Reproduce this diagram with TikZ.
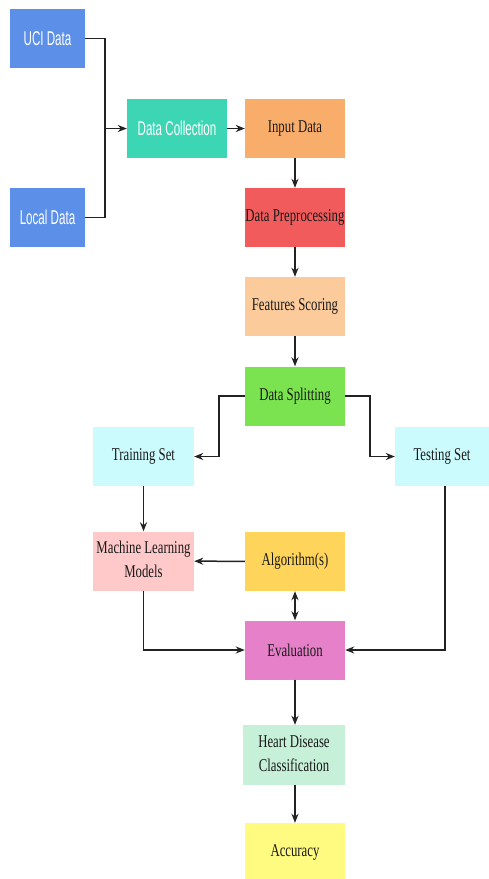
\documentclass[tikz,border=0pt]{standalone}
\usepackage{fontspec}
\setmainfont{Liberation Serif}
\setsansfont{Liberation Sans}
\usetikzlibrary{arrows.meta}
\newcommand{\sqz}[1]{\scalebox{0.71}[1]{#1}}
\newcommand{\sqs}[1]{\scalebox{0.58}[1]{#1}}
\definecolor{cblue}{HTML}{5B8FE8}
\definecolor{cteal}{HTML}{3DD6B5}
\definecolor{corange}{HTML}{F9AD6A}
\definecolor{cred}{HTML}{F15B5B}
\definecolor{cpeach}{HTML}{FCCB9C}
\definecolor{cgreen}{HTML}{7CE350}
\definecolor{ccyan}{HTML}{CCFBFE}
\definecolor{cpink}{HTML}{FFC9C9}
\definecolor{cyellow}{HTML}{FFD45A}
\definecolor{cmagenta}{HTML}{E680C8}
\definecolor{cmint}{HTML}{C7F0D8}
\definecolor{clemon}{HTML}{FFFA80}
\definecolor{cline}{HTML}{222222}
\begin{document}
\begin{tikzpicture}[x=1pt,y=-1pt,
  box/.style={minimum width=100pt,minimum height=59pt,inner sep=0pt,
    font=\fontsize{18}{24}\selectfont,text=black!90},
  wbox/.style={box,minimum width=75pt,text=white,font=\sffamily\fontsize{20}{24}\selectfont},
  conn/.style={draw=cline,line width=1.5pt},
  arr/.style={conn,-{Stealth[length=9pt,width=7pt]}}]
\useasboundingbox (0,0) rectangle (488,879);
\node[wbox,fill=cblue] (uci) at (47.5,38.5) {\sqs{UCI Data}};
\node[wbox,fill=cblue] (local) at (47.5,217.5) {\sqs{Local Data}};
\node[wbox,fill=cteal,minimum width=100pt] (coll) at (177,128.5) {\sqs{Data Collection}};
\node[box,fill=corange] (input) at (295,128.5) {\sqz{Input Data}};
\node[box,fill=cred] (prep) at (295,217.5) {\sqz{Data Preprocessing}};
\node[box,fill=cpeach] (feat) at (295,306.5) {\sqz{Features Scoring}};
\node[box,fill=cgreen] (split) at (295,396) {\sqz{Data Splitting}};
\node[box,fill=ccyan,minimum width=101pt] (train) at (143.5,456.5) {\sqz{Training Set}};
\node[box,fill=ccyan,minimum width=94pt] (test) at (442,456.5) {\sqz{Testing Set}};
\node[box,fill=cpink,minimum width=101pt] (ml) at (143.5,561) {\sqz{\begin{tabular}{@{}c@{}}Machine Learning\\Models\end{tabular}}};
\node[box,fill=cyellow] (alg) at (295,561.5) {\sqz{Algorithm(s)}};
\node[box,fill=cmagenta] (eval) at (295,650) {\sqz{Evaluation}};
\node[box,fill=cmint,minimum width=102pt,minimum height=60pt] (heart) at (294,755) {\sqz{\begin{tabular}{@{}c@{}}Heart Disease\\Classification\end{tabular}}};
\node[box,fill=clemon,minimum height=58pt] (acc) at (295,852) {\sqz{Accuracy}};
\coordinate (j) at (105,128.5);
\draw[conn] (uci.east) -| (j);
\draw[conn] (local.east) -| (j);
\draw[arr] (j) -- (coll.west);
\draw[arr] (coll) -- (input);
\draw[arr] (input) -- (prep);
\draw[arr] (prep) -- (feat);
\draw[arr] (feat) -- (split);
\draw[arr] (split.west) -- ++(-26,0) |- (train.east);
\draw[arr] (split.east) -- ++(25,0) |- (test.east -| test.west);
\draw[arr] (train) -- (ml);
\draw[arr] (alg) -- (ml);
\draw[conn,{Stealth[length=9pt,width=7pt]}-{Stealth[length=9pt,width=7pt]}] (alg) -- (eval);
\draw[arr] (ml.south) |- (eval.west);
\draw[arr] (test.south -| 445,0) |- (eval.east);
\draw[arr] (eval) -- (heart.north -| eval);
\draw[arr] (heart.south -| eval) -- (acc);
\end{tikzpicture}
\end{document}
